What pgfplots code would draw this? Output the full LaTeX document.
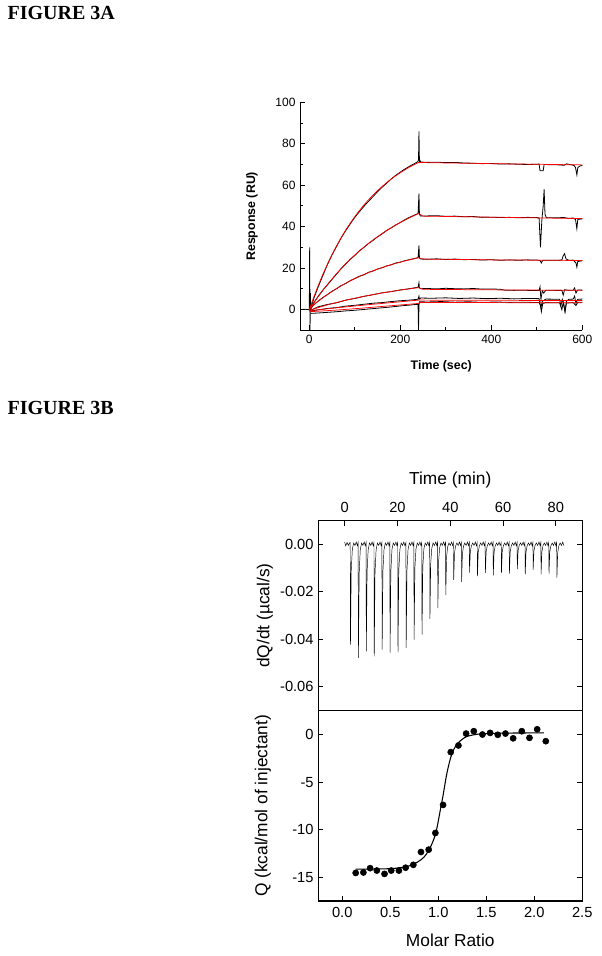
\documentclass[border=0pt]{standalone}
\usepackage{pgfplots}
\pgfplotsset{compat=1.18}
\usepackage{fontspec}
\setmainfont{Liberation Sans}
\newfontfamily\timesfont{Liberation Serif}
\begin{document}
\begin{tikzpicture}
\useasboundingbox (0,0) rectangle (451.5pt,717pt);
\node[anchor=base west, inner sep=0pt, font=\timesfont\bfseries\fontsize{15}{18}\selectfont] at (5.5pt,702pt) {FIGURE 3A};
\node[anchor=base west, inner sep=0pt, font=\timesfont\bfseries\fontsize{15}{18}\selectfont] at (5.5pt,405.75pt) {FIGURE 3B};
% ---------------- Panel A ----------------
\begin{axis}[
  at={(225.15pt,469.2pt)}, anchor=south west,
  scale only axis, width=211.6pt, height=171.1pt,
  xmin=-20, xmax=600, ymin=-10, ymax=100,
  axis x line*=bottom, axis y line*=left,
  axis line style={-, line width=0.8pt},
  xtick={0,200,400,600}, xticklabels={0,200,400,600},
  minor xtick={100,300,500},
  ytick={0,20,40,60,80,100}, yticklabels={0,20,40,60,80,100},
  minor ytick={10,30,50,70,90},
  tick align=inside, major tick length=3.75pt, minor tick length=2.2pt,
  tick style={line width=0.7pt, black},
  ticklabel style={font=\fontsize{9}{10}\selectfont},
  xlabel={\bfseries Time (sec)}, ylabel={\bfseries Response (RU)},
  label style={font=\fontsize{9.3}{11}\selectfont},
  xlabel style={at={(axis description cs:0.5,-0.156)}, anchor=center},
  ylabel style={at={(axis description cs:-0.171,0.5)}, anchor=center, rotate=0},
]
% black sensorgrams
\addplot[black, line width=0.6pt] coordinates {(-20,0)(-10,0.2)(-2,0)(0,0)(0.8,30)(1.6,-10)(2.4,8)(3.2,0.5)(5,1.8)(10,5.5)(20,11.2)(30,16.6)(40,21.8)(50,26.4)(60,30.5)(70,34.6)(80,38.1)(90,41.4)(100,44.5)(110,47.2)(120,49.8)(130,52.2)(140,54.5)(150,56.9)(160,59.0)(170,61.0)(180,63.0)(190,64.8)(200,66.3)(210,67.8)(220,69.1)(230,70.3)(238,71.3)(240,72)(241,86)(242,71.5)(243,72)(245,71.2)(260,71.0)(280,71.1)(300,70.9)(320,71.0)(340,70.7)(360,70.6)(380,70.4)(400,70.5)(420,70.2)(440,70.3)(460,70.1)(480,70.0)(500,70.1)(505,70.2)(507,67)(514,67)(516,70.0)(530,69.9)(550,69.8)(560,69.6)(565,70.3)(575,69.9)(582,69.5)(585,68.5)(588,65)(590,68.5)(595,69.3)(600,69.5)};
\addplot[black, line width=0.6pt] coordinates {(3,0.5)(5,1.0)(10,3.4)(20,6.6)(30,9.5)(40,12.0)(50,14.6)(60,17.2)(70,19.8)(80,22.0)(90,24.3)(100,26.1)(110,28.4)(120,30.0)(130,31.9)(140,33.4)(150,35.1)(160,36.5)(170,38.2)(180,39.4)(190,40.9)(200,42.0)(210,43.4)(220,44.5)(230,45.5)(239,46.3)(241,56)(242,46)(244,45.2)(260,45.2)(280,45.3)(300,45.0)(320,45.1)(340,44.8)(360,44.9)(380,44.5)(400,44.6)(420,44.4)(440,44.5)(460,44.3)(480,44.5)(500,44.4)(505,44.2)(508,30)(511,43)(514,50)(516,58)(518,46)(521,44.3)(540,44.3)(560,44.4)(570,44.0)(580,44.2)(585,43.5)(588,39)(590,43.5)(600,43.8)};
\addplot[black, line width=0.6pt] coordinates {(3,0.5)(10,2.4)(20,4.2)(30,5.9)(40,7.3)(50,8.9)(60,10.1)(70,11.6)(80,12.6)(90,14.0)(100,15.0)(110,16.1)(120,16.8)(130,18.0)(140,18.6)(150,19.6)(160,20.2)(170,21.1)(180,21.6)(190,22.5)(200,22.9)(210,23.6)(220,24.1)(230,24.6)(239,25.1)(241,31)(242,25.0)(245,24.4)(260,24.3)(280,24.5)(300,24.2)(320,24.4)(340,24.1)(360,24.2)(380,23.9)(400,24.1)(420,23.8)(440,24.0)(460,23.8)(480,24.0)(500,23.9)(507,23.7)(510,22.5)(513,23.8)(540,23.8)(555,23.9)(558,26)(561,27)(564,24.5)(570,23.8)(580,23.9)(586,22.5)(588,20.5)(590,23.2)(600,23.6)};
\addplot[black, line width=0.6pt] coordinates {(3,-0.3)(20,1.4)(40,2.5)(60,3.3)(80,4.6)(100,5.4)(120,6.4)(140,7.2)(160,8.1)(180,8.7)(200,9.5)(220,10.1)(239,10.8)(241,13)(242,10.5)(245,10.1)(260,10.2)(280,10.0)(300,10.3)(320,10.1)(340,10.0)(360,10.2)(380,9.9)(400,10.0)(420,9.8)(430,9.4)(450,9.3)(470,9.4)(490,9.2)(505,9.3)(507,11)(509,5)(512,9)(515,8)(520,9.4)(540,9.3)(555,9.3)(558,7)(561,9.6)(570,9.3)(580,9.4)(583,10.5)(586,8)(590,9.5)(600,9.4)};
\addplot[black, line width=0.6pt] coordinates {(3,-0.6)(20,-0.1)(40,0.6)(60,1.0)(80,1.7)(100,2.1)(120,2.6)(140,3.1)(160,3.4)(180,3.9)(200,4.3)(220,4.6)(239,5.0)(241,6.5)(242,5.2)(245,5.6)(270,5.5)(300,5.7)(330,5.4)(360,5.6)(390,5.3)(420,5.5)(450,5.2)(480,5.4)(505,5.3)(507,3)(509,1)(512,4)(520,5.1)(550,5.0)(553,2)(556,5)(559,3)(562,-1)(565,4)(570,5.0)(580,5.1)(583,6.5)(586,3)(590,5.0)(600,5.1)};
\addplot[black, line width=0.6pt] coordinates {(3,-1.8)(20,-1.6)(40,-1.3)(60,-1.0)(80,-0.6)(100,-0.3)(120,0.1)(140,0.5)(160,0.9)(180,1.3)(200,1.8)(220,2.2)(239,2.6)(240,-10)(241,2)(242,3.8)(260,3.7)(290,3.9)(320,3.6)(350,3.8)(380,3.5)(410,3.7)(440,3.5)(470,3.6)(505,3.4)(508,2)(510,-1)(513,3)(520,3.4)(550,3.3)(555,0)(558,3.5)(562,-1)(565,3.2)(580,3.4)(586,2.0)(590,3.5)(600,3.6)};
% red fits
\addplot[red, line width=0.55pt] coordinates {(0,0)(10,6.15)(20,11.84)(30,17.13)(40,22.03)(50,26.58)(60,30.80)(70,34.71)(80,38.35)(90,41.72)(100,44.85)(110,47.75)(120,50.44)(130,52.94)(140,55.26)(150,57.40)(160,59.40)(170,61.25)(180,62.97)(190,64.56)(200,66.03)(210,67.41)(220,68.68)(230,69.86)(240,70.95)(300,70.75)(400,70.4)(500,70.1)(600,69.8)};
\addplot[red, line width=0.55pt] coordinates {(0,0)(20,6.42)(40,12.21)(60,17.42)(80,22.12)(100,26.36)(120,30.17)(140,33.61)(160,36.72)(180,39.51)(200,42.02)(220,44.30)(240,46.34)(250,45.1)(400,44.6)(600,43.9)};
\addplot[red, line width=0.55pt] coordinates {(0,0.5)(20,4.13)(40,7.35)(60,10.20)(80,12.74)(100,14.98)(120,16.97)(140,18.74)(160,20.31)(180,21.70)(200,22.93)(220,24.03)(240,25.00)(250,24.4)(400,24.0)(600,23.7)};
\addplot[red, line width=0.55pt] coordinates {(0,-0.3)(40,2.32)(80,4.55)(120,6.45)(160,8.07)(200,9.45)(240,10.62)(250,9.8)(400,9.55)(600,9.3)};
\addplot[red, line width=0.55pt] coordinates {(0,-0.5)(60,0.9)(120,2.2)(180,3.4)(240,4.6)(250,4.6)(400,4.5)(600,4.4)};
\addplot[red, line width=0.55pt] coordinates {(0,-1.0)(60,-0.2)(120,0.8)(180,1.9)(240,3.0)(245,3.5)(400,3.4)(600,3.3)};
\end{axis}
% ---------------- Panel B, upper ----------------
\begin{axis}[
  at={(238.7pt,184pt)}, anchor=south west,
  scale only axis, width=198pt, height=142.5pt,
  xmin=-10, xmax=90, ymin=-0.07, ymax=0.01,
  axis line style={line width=0.8pt},
  xtick={0,20,40,60,80}, xticklabels={0,20,40,60,80},
  xtick pos=upper, xticklabel pos=upper,
  ytick={-0.06,-0.04,-0.02,0}, yticklabels={-0.06,-0.04,-0.02,0.00},
  scaled y ticks=false,
  tick align=inside, major tick length=3.75pt,
  tick style={line width=0.7pt, black},
  ticklabel style={font=\fontsize{11}{12}\selectfont},
  xticklabel style={yshift=2.5pt},
  xlabel={Time (min)}, ylabel={dQ/dt (µcal/s)},
  label style={font=\fontsize{13}{15}\selectfont},
  xlabel style={at={(axis description cs:0.5,1.215)}, anchor=center},
  ylabel style={at={(axis description cs:-0.202,0.5)}, anchor=center},
]
\addplot[black, line width=0.35pt] coordinates {(0,0.0010)(0.4,-0.0006)(0.9,0.0008)(1.4,-0.0004)(1.8,0.0006)
(2.1,0.0008)(2.2,-0.0422)(2.5,-0.0106)(2.9,-0.0021)(3.4,0.0006)(3.9,-0.0004)(4.4,0.0010)(4.8,-0.0005)
(5.1,0.0008)(5.2,-0.0478)(5.5,-0.0120)(5.9,-0.0024)(6.4,0.0006)(6.9,-0.0004)(7.4,0.0010)(7.8,-0.0005)
(8.1,0.0008)(8.2,-0.0450)(8.5,-0.0113)(8.9,-0.0023)(9.4,0.0006)(9.9,-0.0004)(10.4,0.0010)(10.8,-0.0005)
(11.1,0.0008)(11.2,-0.0471)(11.5,-0.0118)(11.9,-0.0024)(12.4,0.0006)(12.9,-0.0004)(13.4,0.0010)(13.8,-0.0005)
(14.1,0.0008)(14.2,-0.0443)(14.5,-0.0111)(14.9,-0.0022)(15.4,0.0006)(15.9,-0.0004)(16.4,0.0010)(16.8,-0.0005)
(17.1,0.0008)(17.2,-0.0456)(17.5,-0.0114)(17.9,-0.0023)(18.4,0.0006)(18.9,-0.0004)(19.4,0.0010)(19.8,-0.0005)
(20.1,0.0008)(20.2,-0.0456)(20.5,-0.0114)(20.9,-0.0023)(21.4,0.0006)(21.9,-0.0004)(22.4,0.0010)(22.8,-0.0005)
(23.2,0.0008)(23.3,-0.0436)(23.6,-0.0109)(24.0,-0.0022)(24.5,0.0006)(25.0,-0.0004)(25.5,0.0010)(25.9,-0.0005)
(26.2,0.0008)(26.3,-0.0401)(26.6,-0.0100)(27.0,-0.0020)(27.5,0.0006)(28.0,-0.0004)(28.5,0.0010)(28.9,-0.0005)
(29.2,0.0008)(29.3,-0.0380)(29.6,-0.0095)(30.0,-0.0019)(30.5,0.0006)(31.0,-0.0004)(31.5,0.0010)(31.9,-0.0005)
(32.2,0.0008)(32.3,-0.0313)(32.6,-0.0078)(33.0,-0.0016)(33.5,0.0006)(34.0,-0.0004)(34.5,0.0010)(34.9,-0.0005)
(35.2,0.0008)(35.3,-0.0268)(35.6,-0.0067)(36.0,-0.0013)(36.5,0.0006)(37.0,-0.0004)(37.5,0.0010)(37.9,-0.0005)
(38.2,0.0008)(38.3,-0.0213)(38.6,-0.0053)(39.0,-0.0011)(39.5,0.0006)(40.0,-0.0004)(40.5,0.0010)(40.9,-0.0005)
(41.2,0.0008)(41.3,-0.0149)(41.6,-0.0037)(42.0,-0.0007)(42.5,0.0006)(43.0,-0.0004)(43.5,0.0010)(43.9,-0.0005)
(44.2,0.0008)(44.3,-0.0158)(44.6,-0.0040)(45.0,-0.0008)(45.5,0.0006)(46.0,-0.0004)(46.5,0.0010)(46.9,-0.0005)
(47.2,0.0008)(47.3,-0.0119)(47.6,-0.0030)(48.0,-0.0006)(48.5,0.0006)(49.0,-0.0004)(49.5,0.0010)(49.9,-0.0005)
(50.2,0.0008)(50.3,-0.0133)(50.6,-0.0033)(51.0,-0.0007)(51.5,0.0006)(52.0,-0.0004)(52.5,0.0010)(52.9,-0.0005)
(53.2,0.0008)(53.3,-0.0120)(53.6,-0.0030)(54.0,-0.0006)(54.5,0.0006)(55.0,-0.0004)(55.5,0.0010)(55.9,-0.0005)
(56.2,0.0008)(56.3,-0.0130)(56.6,-0.0033)(57.0,-0.0007)(57.5,0.0006)(58.0,-0.0004)(58.5,0.0010)(58.9,-0.0005)
(59.3,0.0008)(59.4,-0.0120)(59.7,-0.0030)(60.1,-0.0006)(60.6,0.0006)(61.1,-0.0004)(61.6,0.0010)(62.0,-0.0005)
(62.3,0.0008)(62.4,-0.0123)(62.7,-0.0031)(63.1,-0.0006)(63.6,0.0006)(64.1,-0.0004)(64.6,0.0010)(65.0,-0.0005)
(65.3,0.0008)(65.4,-0.0104)(65.7,-0.0026)(66.1,-0.0005)(66.6,0.0006)(67.1,-0.0004)(67.6,0.0010)(68.0,-0.0005)
(68.3,0.0008)(68.4,-0.0126)(68.7,-0.0032)(69.1,-0.0006)(69.6,0.0006)(70.1,-0.0004)(70.6,0.0010)(71.0,-0.0005)
(71.3,0.0008)(71.4,-0.0107)(71.7,-0.0027)(72.1,-0.0005)(72.6,0.0006)(73.1,-0.0004)(73.6,0.0010)(74.0,-0.0005)
(74.3,0.0008)(74.4,-0.0126)(74.7,-0.0032)(75.1,-0.0006)(75.6,0.0006)(76.1,-0.0004)(76.6,0.0010)(77.0,-0.0005)
(77.3,0.0008)(77.4,-0.0123)(77.7,-0.0031)(78.1,-0.0006)(78.6,0.0006)(79.1,-0.0004)(79.6,0.0010)(80.0,-0.0005)
(80.3,0.0008)(80.4,-0.0140)(80.7,-0.0035)(81.1,-0.0007)(81.6,0.0006)(82.1,-0.0004)(82.6,0.0010)(83.0,-0.0005)};
\end{axis}
% ---------------- Panel B, lower ----------------
\begin{axis}[
  at={(238.7pt,41.25pt)}, anchor=south west,
  scale only axis, width=198pt, height=142.7pt,
  xmin=-0.25, xmax=2.5, ymin=-17.5, ymax=2.5,
  axis line style={line width=0.8pt},
  xtick={0,0.5,1,1.5,2,2.5}, xticklabels={0.0,0.5,1.0,1.5,2.0,2.5},
  xtick pos=lower,
  ytick={-15,-10,-5,0}, yticklabels={-15,-10,-5,0},
  tick align=inside, major tick length=3.75pt,
  tick style={line width=0.7pt, black},
  ticklabel style={font=\fontsize{11}{12}\selectfont},
  xticklabel style={yshift=-1.5pt},
  xlabel={Molar Ratio}, ylabel={Q (kcal/mol of injectant)},
  label style={font=\fontsize{13}{15}\selectfont},
  xlabel style={at={(axis description cs:0.5,-0.209)}, anchor=center},
  ylabel style={at={(axis description cs:-0.21,0.5)}, anchor=center},
]
\addplot[black, line width=0.8pt, smooth] coordinates {(0.14,-14.15)(0.3,-14.15)(0.5,-14.1)(0.6,-14.0)(0.7,-13.8)(0.75,-13.6)(0.8,-13.3)(0.85,-12.9)(0.9,-12.2)(0.95,-11.1)(0.98,-10.1)(1.0,-9.1)(1.02,-8.0)(1.05,-6.4)(1.08,-4.6)(1.1,-3.6)(1.13,-2.4)(1.16,-1.6)(1.2,-0.95)(1.25,-0.5)(1.3,-0.2)(1.4,0.02)(1.5,0.1)(1.7,0.15)(2.1,0.17)};
\addplot[black, only marks, mark=*, mark size=2.3pt] coordinates {(0.14,-14.55)(0.22,-14.5)(0.29,-14.05)(0.36,-14.3)(0.44,-14.65)(0.51,-14.3)(0.59,-14.3)(0.66,-14.0)(0.74,-13.7)(0.82,-12.35)(0.90,-12.1)(0.97,-10.35)(1.05,-7.4)(1.13,-1.85)(1.21,-1.15)(1.29,0.1)(1.37,0.35)(1.46,0.0)(1.54,0.17)(1.62,-0.03)(1.70,0.1)(1.78,-0.4)(1.87,0.35)(1.95,-0.35)(2.03,0.55)(2.12,-0.7)};
\end{axis}
\end{tikzpicture}
\end{document}
